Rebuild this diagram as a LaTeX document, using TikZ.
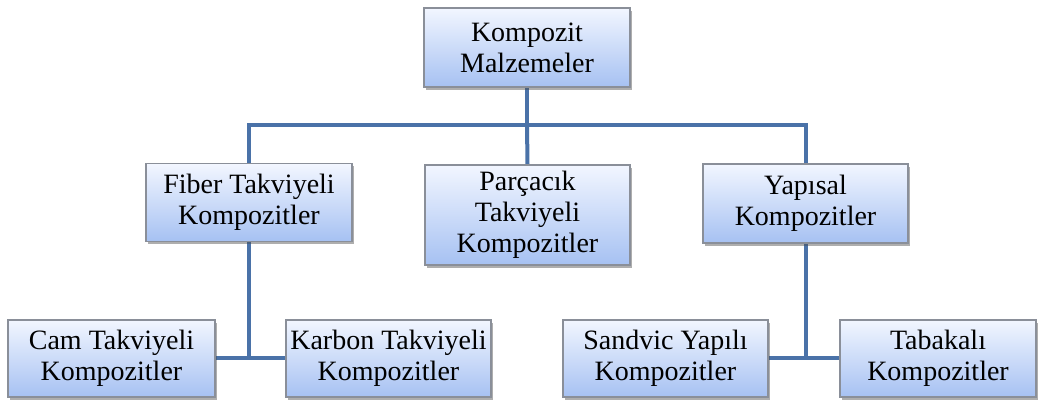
\documentclass[tikz,border=0pt]{standalone}
\usepackage{fontspec}
\setmainfont{Liberation Serif}
\usetikzlibrary{shadows,backgrounds}
\definecolor{boxtop}{HTML}{F2F6FF}
\definecolor{boxbot}{HTML}{A6C1F2}
\definecolor{boxline}{HTML}{8A8F99}
\definecolor{linkblue}{HTML}{4A72A8}
\begin{document}
\begin{tikzpicture}[x=1pt,y=-1pt,
  box/.style={rectangle, draw=boxline, line width=1.2pt,
    top color=boxtop, bottom color=boxbot,
    drop shadow={shadow xshift=2pt, shadow yshift=-2.5pt, opacity=0.45, fill=black!70},
    align=center, inner sep=0pt, font=\fontsize{28}{31}\selectfont, text=black},
  link/.style={draw=linkblue, line width=4pt}]
\useasboundingbox (0,0) rectangle (1041,399);
% upper levels
\node[box, minimum width=206pt, minimum height=79pt] (root) at (527,47.5) {Kompozit\\Malzemeler};
\node[box, minimum width=206pt, minimum height=78pt] (fiber) at (249,202.5) {Fiber Takviyeli\\Kompozitler};
\node[box, minimum width=205pt, minimum height=100pt] (parca) at (527.5,215) {Parçacık\\Takviyeli\\Kompozitler};
\node[box, minimum width=205pt, minimum height=79pt] (yapi) at (805.5,203.5) {Yapısal\\Kompozitler};
% lowest level
\node[box, minimum width=207pt, minimum height=77pt] (cam) at (111.5,358.5) {Cam Takviyeli\\Kompozitler};
\node[box, minimum width=205pt, minimum height=77pt] (karbon) at (388.5,358.5) {Karbon Takviyeli\\Kompozitler};
\node[box, minimum width=205pt, minimum height=77pt] (sandvic) at (665.5,358.5) {Sandvic Yapılı\\Kompozitler};
\node[box, minimum width=196pt, minimum height=77pt] (tabaka) at (938,358.5) {Tabakalı\\Kompozitler};
% junction points
\coordinate (bus) at (527,125);
\coordinate (fjoin) at (249,358);
\coordinate (yjoin) at (805.5,358);
% connectors drawn behind the boxes
\begin{pgfonlayer}{background}
  \draw[link] (root.south) -- (bus);
  \draw[link] (fiber.north) |- (bus) -| (yapi.north);
  \draw[link] (bus) -- (parca.north);
  \draw[link] (fiber.south) -- (fjoin);
  \draw[link] (cam.east |- fjoin) -- (karbon.west |- fjoin);
  \draw[link] (yapi.south) -- (yjoin);
  \draw[link] (sandvic.east |- yjoin) -- (tabaka.west |- yjoin);
\end{pgfonlayer}
\end{tikzpicture}
\end{document}
